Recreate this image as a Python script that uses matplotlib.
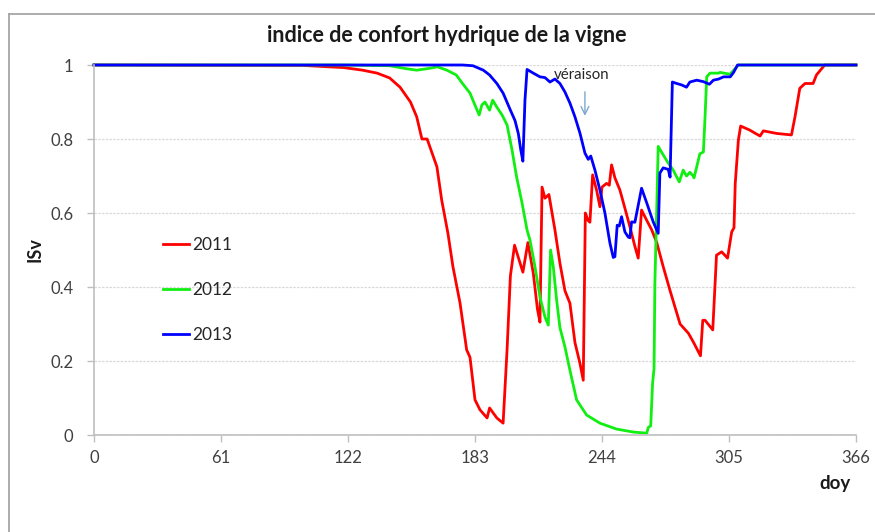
import matplotlib
matplotlib.use("Agg")
import matplotlib.pyplot as plt
from matplotlib.lines import Line2D

plt.rcParams['font.family'] = ['Lato', 'DejaVu Sans']

# ---- data ----
days_2011 = [0, 100, 113, 120, 129, 136, 142, 147, 152, 155, 157.5, 160, 164.7, 167, 170, 172.4,
             175.8, 179, 180.6, 183, 185.4, 188.8, 190, 193.5, 196.5, 198.4, 200, 202, 206, 208.4,
             211, 213, 214.2, 215.2, 216.6, 218.5, 221.4, 223.8, 226.2, 228.6, 231, 233.4, 235,
             236, 237.3, 238.2, 239.5, 241.4, 243, 244, 246.2, 247.5, 248.6, 250.2, 252.6, 255,
             257.4, 259.8, 261.4, 263, 265.5, 267.9, 270.3, 273.4, 276.7, 281.5, 285.5, 288,
             291.3, 292.4, 293.5, 297.2, 299, 301.5, 304.3, 306.3, 307.4, 308, 309.5, 310.6, 315,
             319.9, 321.5, 327.9, 335, 336.7, 339, 341.5, 345.4, 347, 349.5, 351, 366]
isv_2011 = [1, 0.999, 0.995, 0.993, 0.986, 0.978, 0.965, 0.94, 0.90, 0.86, 0.80, 0.80, 0.725,
            0.635, 0.545, 0.455, 0.357, 0.23, 0.21, 0.095, 0.068, 0.046, 0.073, 0.046, 0.032,
            0.23, 0.43, 0.513, 0.44, 0.52, 0.437, 0.34, 0.305, 0.67, 0.64, 0.65, 0.554, 0.464,
            0.39, 0.356, 0.25, 0.194, 0.148, 0.60, 0.58, 0.575, 0.703, 0.662, 0.617, 0.67, 0.68,
            0.675, 0.73, 0.695, 0.662, 0.613, 0.563, 0.51, 0.478, 0.608, 0.58, 0.554, 0.52,
            0.455, 0.39, 0.30, 0.275, 0.25, 0.214, 0.31, 0.31, 0.284, 0.486, 0.495, 0.478,
            0.549, 0.56, 0.68, 0.797, 0.835, 0.824, 0.808, 0.822, 0.815, 0.811, 0.86, 0.937,
            0.95, 0.95, 0.973, 0.99, 1.0, 1.0]

days_2012 = [0, 120, 142, 150, 155, 160, 165, 169.5, 174, 177, 180.6, 184, 185, 186.3, 187.8,
             190, 191.5, 193.5, 196, 198.4, 200.8, 203, 205.6, 208, 209.4, 211.8, 214.2, 216.6,
             218.2, 219.3, 220.6, 222.2, 223.8, 226.2, 228.6, 231.8, 236.6, 243, 251, 259, 265.5,
             266.2, 267.4, 268.3, 269, 269.4, 270.2, 271, 273.4, 275.8, 278.2, 281.1, 283, 284.6,
             286.2, 287.8, 288.2, 289.5, 291, 292.7, 293.5, 294.3, 295.9, 299.9, 300.7, 305.5,
             307.9, 309.5, 366]
isv_2012 = [1, 1, 0.998, 0.99, 0.986, 0.99, 0.995, 0.986, 0.973, 0.95, 0.924, 0.878, 0.865,
            0.892, 0.90, 0.878, 0.905, 0.886, 0.865, 0.838, 0.77, 0.697, 0.627, 0.554, 0.527,
            0.455, 0.373, 0.319, 0.297, 0.50, 0.455, 0.365, 0.29, 0.238, 0.175, 0.095, 0.054,
            0.032, 0.016, 0.008, 0.005, 0.02, 0.025, 0.14, 0.18, 0.41, 0.59, 0.78, 0.757, 0.735,
            0.716, 0.684, 0.716, 0.70, 0.71, 0.70, 0.695, 0.725, 0.76, 0.765, 0.86, 0.968, 0.978,
            0.978, 0.98, 0.975, 0.99, 1.0, 1.0]

days_2013 = [0, 177, 182, 187, 190, 193.5, 196.5, 200, 202.2, 203.8, 205, 206, 207, 208, 211,
             214.2, 216.6, 219, 221.4, 223.8, 226.2, 228.6, 231, 233.4, 235.8, 237.4, 238.6,
             240.6, 243, 245.4, 247.8, 249.4, 250.2, 251.3, 252.3, 253.4, 255, 256.6, 257.4,
             258.2, 259.8, 263, 265.5, 268.6, 271, 271.8, 273.4, 275.8, 276.7, 277.8, 279.9,
             282.3, 284.6, 286.2, 289.5, 292.7, 295.6, 297.5, 300, 302.4, 305.6, 307.2, 309.1, 366]
isv_2013 = [1, 1, 0.998, 0.986, 0.973, 0.95, 0.924, 0.878, 0.85, 0.815, 0.77, 0.74, 0.905, 0.988,
            0.978, 0.968, 0.966, 0.954, 0.962, 0.95, 0.927, 0.897, 0.86, 0.816, 0.762, 0.745,
            0.754, 0.716, 0.662, 0.60, 0.519, 0.48, 0.482, 0.567, 0.565, 0.59, 0.549, 0.535,
            0.533, 0.576, 0.575, 0.667, 0.627, 0.576, 0.545, 0.708, 0.722, 0.718, 0.697, 0.954,
            0.95, 0.946, 0.94, 0.954, 0.959, 0.955, 0.948, 0.959, 0.962, 0.968, 0.968, 0.98,
            1.0, 1.0]

series_labels = ['2011', '2012', '2013']
x_ticks = [0, 61, 122, 183, 244, 305, 366]
y_ticks = [0, 0.2, 0.4, 0.6, 0.8, 1]
y_ticklabels = ['0', '0.2', '0.4', '0.6', '0.8', '1']
veraison_doy = 235.8

# ---- figure ----
W, H = 875, 532
fig = plt.figure(figsize=(W / 100, H / 100), dpi=100)
fig.patch.set_facecolor('white')

def fx(px):
    return px / W

def fy(py):
    return 1 - py / H

ax = fig.add_axes([fx(94), fy(435), fx(856) - fx(94), fy(65) - fy(435)])

colors = ['#ff0000', '#11ee11', '#0000ff']
for d, v, c, lab in zip([days_2011, days_2012, days_2013],
                        [isv_2011, isv_2012, isv_2013], colors, series_labels):
    ax.plot(d, v, color=c, lw=2.0, label=lab, clip_on=False, solid_joinstyle='round')

ax.set_xlim(0, 366)
ax.set_ylim(0, 1)
ax.set_xticks(x_ticks)
ax.set_yticks(y_ticks)
ax.set_yticklabels(y_ticklabels)
ax.tick_params(axis='both', colors='#bfbfbf', labelcolor='#404040', labelsize=12,
               length=5, width=1, direction='out')
ax.tick_params(axis='y', pad=10)
ax.tick_params(axis='x', pad=6)
for s in ['top', 'right']:
    ax.spines[s].set_visible(False)
for s in ['left', 'bottom']:
    ax.spines[s].set_color('#bfbfbf')
    ax.spines[s].set_linewidth(1.2)
ax.yaxis.grid(True, color='#d9d9d9', linestyle=(0, (2, 1)), lw=0.9)
ax.set_axisbelow(True)

# annotation
ax.annotate('', xy=(veraison_doy, 0.855), xytext=(veraison_doy, 0.935),
            arrowprops=dict(arrowstyle='->', color='#7ea6d0', lw=1.0, mutation_scale=14))
ax.text(veraison_doy - 1.8, 0.973, 'véraison', ha='center', va='center', fontsize=10.8,
        color='#262626')

# legend
leg = ax.legend(loc='center left', bbox_to_anchor=(fx(163), fy(290)),
                bbox_transform=fig.transFigure, frameon=False, fontsize=12.5,
                handlelength=1.5, handletextpad=0.2, labelspacing=1.65,
                borderpad=0, borderaxespad=0)
for t in leg.get_texts():
    t.set_color('#262626')

# texts
fig.text(fx(446.5), fy(35), 'indice de confort hydrique de la vigne', ha='center',
         va='center', fontsize=15.5, fontweight='bold', color='#1a1a1a')
fig.text(fx(35), fy(250), 'ISv', rotation=90, ha='center', va='center', fontsize=13,
         fontweight='bold', color='#1a1a1a')
fig.text(fx(835), fy(483), 'doy', ha='center', va='center', fontsize=13.5,
         fontweight='bold', color='#1a1a1a')

# outer chart frame (left and top only visible)
fig.add_artist(Line2D([fx(9), fx(9)], [fy(14), 0], transform=fig.transFigure,
                      color='#a6a6a6', lw=1.3))
fig.add_artist(Line2D([fx(9), 1], [fy(14), fy(14)], transform=fig.transFigure,
                      color='#a6a6a6', lw=1.3))

fig.savefig('out.png', dpi=100)
